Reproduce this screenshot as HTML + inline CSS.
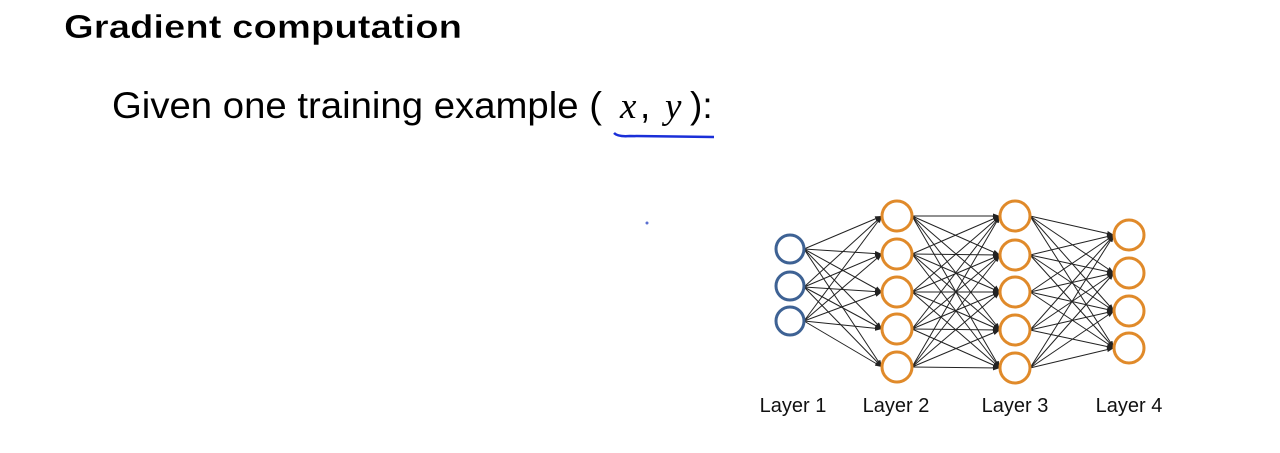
<!DOCTYPE html>
<html><head><meta charset="utf-8"><style>
html,body{margin:0;padding:0;background:#fff;}
svg{display:block;}
</style></head><body>
<svg width="1280" height="453" viewBox="0 0 1280 453" xmlns="http://www.w3.org/2000/svg">
<defs>
<marker id="a" markerWidth="7" markerHeight="5" refX="7" refY="2.5" orient="auto" markerUnits="userSpaceOnUse">
<path d="M0,0 L7,2.5 L0,5 Z" fill="#222"/>
</marker>
</defs>
<text x="64" y="38" font-family="Liberation Sans, sans-serif" font-weight="bold" font-size="33" textLength="398" lengthAdjust="spacingAndGlyphs" fill="#000" stroke="#fff" stroke-width="0.4">Gradient computation</text>
<text x="112" y="118" font-family="Liberation Sans, sans-serif" font-size="37" textLength="490" lengthAdjust="spacingAndGlyphs" fill="#000">Given one training example (</text>
<text x="620" y="118" font-family="Liberation Serif, serif" font-style="italic" font-size="37" fill="#000">x</text>
<text x="640" y="118" font-family="Liberation Sans, sans-serif" font-size="37" fill="#000">,</text>
<text x="665" y="118" font-family="Liberation Serif, serif" font-style="italic" font-size="37" fill="#000">y</text>
<text x="690" y="118" font-family="Liberation Sans, sans-serif" font-size="37" fill="#000">):</text>
<path d="M614,133 Q618,137 630,136 L714,137" stroke="#1a2fd8" stroke-width="2.5" fill="none"/>
<circle cx="647" cy="223" r="1.5" fill="#5a6fd0"/>
<g stroke="#222" stroke-width="1" marker-end="url(#a)">
<line x1="804" y1="249" x2="882" y2="216"/><line x1="804" y1="249" x2="882" y2="254"/><line x1="804" y1="249" x2="882" y2="292"/><line x1="804" y1="249" x2="882" y2="329"/><line x1="804" y1="249" x2="882" y2="367"/>
<line x1="804" y1="287" x2="882" y2="216"/><line x1="804" y1="287" x2="882" y2="254"/><line x1="804" y1="287" x2="882" y2="292"/><line x1="804" y1="287" x2="882" y2="329"/><line x1="804" y1="287" x2="882" y2="367"/>
<line x1="804" y1="321" x2="882" y2="216"/><line x1="804" y1="321" x2="882" y2="254"/><line x1="804" y1="321" x2="882" y2="292"/><line x1="804" y1="321" x2="882" y2="329"/><line x1="804" y1="321" x2="882" y2="367"/>
<line x1="912" y1="216" x2="1000" y2="216"/><line x1="912" y1="216" x2="1000" y2="255"/><line x1="912" y1="216" x2="1000" y2="292"/><line x1="912" y1="216" x2="1000" y2="330"/><line x1="912" y1="216" x2="1000" y2="368"/>
<line x1="912" y1="254" x2="1000" y2="216"/><line x1="912" y1="254" x2="1000" y2="255"/><line x1="912" y1="254" x2="1000" y2="292"/><line x1="912" y1="254" x2="1000" y2="330"/><line x1="912" y1="254" x2="1000" y2="368"/>
<line x1="912" y1="292" x2="1000" y2="216"/><line x1="912" y1="292" x2="1000" y2="255"/><line x1="912" y1="292" x2="1000" y2="292"/><line x1="912" y1="292" x2="1000" y2="330"/><line x1="912" y1="292" x2="1000" y2="368"/>
<line x1="912" y1="329" x2="1000" y2="216"/><line x1="912" y1="329" x2="1000" y2="255"/><line x1="912" y1="329" x2="1000" y2="292"/><line x1="912" y1="329" x2="1000" y2="330"/><line x1="912" y1="329" x2="1000" y2="368"/>
<line x1="912" y1="367" x2="1000" y2="216"/><line x1="912" y1="367" x2="1000" y2="255"/><line x1="912" y1="367" x2="1000" y2="292"/><line x1="912" y1="367" x2="1000" y2="330"/><line x1="912" y1="367" x2="1000" y2="368"/>
<line x1="1030" y1="216" x2="1114" y2="235"/><line x1="1030" y1="216" x2="1114" y2="273"/><line x1="1030" y1="216" x2="1114" y2="311"/><line x1="1030" y1="216" x2="1114" y2="348"/>
<line x1="1030" y1="255" x2="1114" y2="235"/><line x1="1030" y1="255" x2="1114" y2="273"/><line x1="1030" y1="255" x2="1114" y2="311"/><line x1="1030" y1="255" x2="1114" y2="348"/>
<line x1="1030" y1="292" x2="1114" y2="235"/><line x1="1030" y1="292" x2="1114" y2="273"/><line x1="1030" y1="292" x2="1114" y2="311"/><line x1="1030" y1="292" x2="1114" y2="348"/>
<line x1="1030" y1="330" x2="1114" y2="235"/><line x1="1030" y1="330" x2="1114" y2="273"/><line x1="1030" y1="330" x2="1114" y2="311"/><line x1="1030" y1="330" x2="1114" y2="348"/>
<line x1="1030" y1="368" x2="1114" y2="235"/><line x1="1030" y1="368" x2="1114" y2="273"/><line x1="1030" y1="368" x2="1114" y2="311"/><line x1="1030" y1="368" x2="1114" y2="348"/>
</g>
<g fill="#fff" stroke="#3e6294" stroke-width="3">
<circle cx="790" cy="249" r="14"/><circle cx="790" cy="286" r="14"/><circle cx="790" cy="321" r="14"/>
</g>
<g fill="#fff" stroke="#e08a2a" stroke-width="3">
<circle cx="897" cy="216" r="15"/><circle cx="897" cy="254" r="15"/><circle cx="897" cy="292" r="15"/><circle cx="897" cy="329" r="15"/><circle cx="897" cy="367" r="15"/>
<circle cx="1015" cy="216" r="15"/><circle cx="1015" cy="255" r="15"/><circle cx="1015" cy="292" r="15"/><circle cx="1015" cy="330" r="15"/><circle cx="1015" cy="368" r="15"/>
<circle cx="1129" cy="235" r="15"/><circle cx="1129" cy="273" r="15"/><circle cx="1129" cy="311" r="15"/><circle cx="1129" cy="348" r="15"/>
</g>
<g font-family="Liberation Sans, sans-serif" font-size="20" fill="#111" text-anchor="middle">
<text x="793" y="412">Layer 1</text>
<text x="896" y="412">Layer 2</text>
<text x="1015" y="412">Layer 3</text>
<text x="1129" y="412">Layer 4</text>
</g>
</svg>
</body></html>
